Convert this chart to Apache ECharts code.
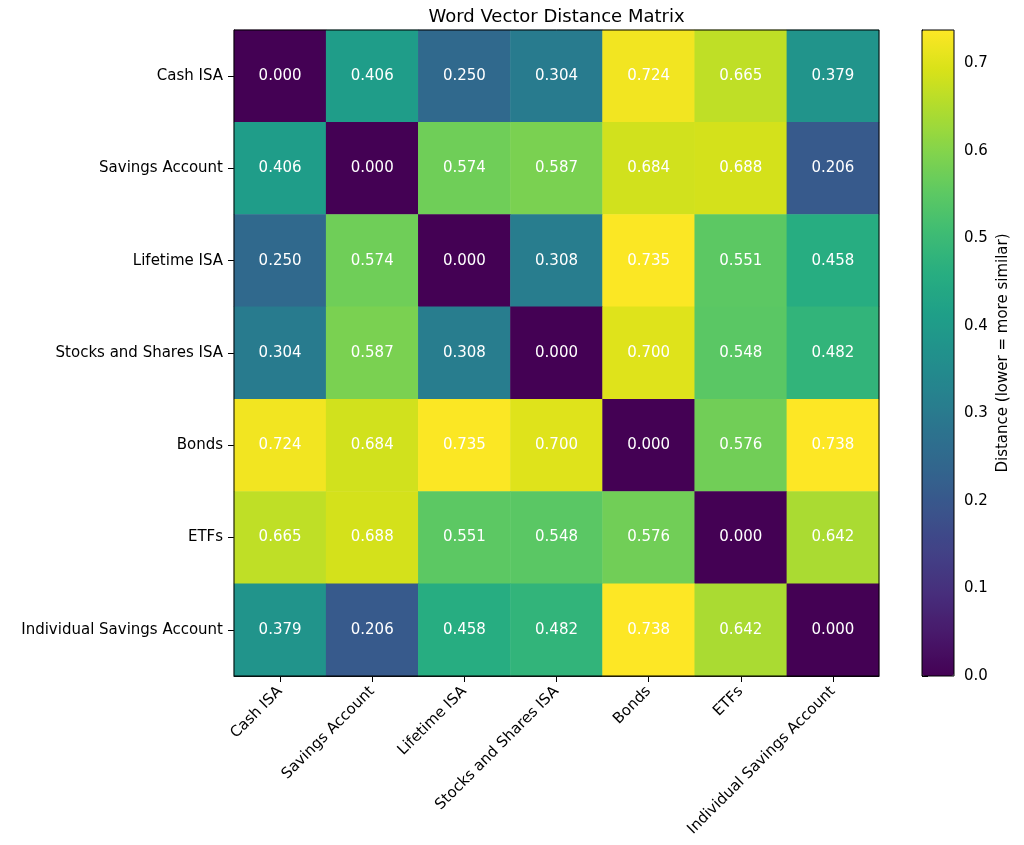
<!DOCTYPE html>
<html>
<head>
<meta charset="utf-8">
<script src="https://cdn.jsdelivr.net/npm/echarts@6/dist/echarts.min.js"></script>
<style>html,body{margin:0;padding:0;background:#fff}#c{width:1024px;height:845px}</style>
</head>
<body>
<div id="c"></div>
<script>
const categories = ['Cash ISA', 'Savings Account', 'Lifetime ISA', 'Stocks and Shares ISA', 'Bonds', 'ETFs', 'Individual Savings Account'];
const rowCashISA = [0.000, 0.406, 0.250, 0.304, 0.724, 0.665, 0.379];
const rowSavings = [0.406, 0.000, 0.574, 0.587, 0.684, 0.688, 0.206];
const rowLifetime = [0.250, 0.574, 0.000, 0.308, 0.735, 0.551, 0.458];
const rowStocks = [0.304, 0.587, 0.308, 0.000, 0.700, 0.548, 0.482];
const rowBonds = [0.724, 0.684, 0.735, 0.700, 0.000, 0.576, 0.738];
const rowETFs = [0.665, 0.688, 0.551, 0.548, 0.576, 0.000, 0.642];
const rowIndividual = [0.379, 0.206, 0.458, 0.482, 0.738, 0.642, 0.000];
const matrix = [rowCashISA, rowSavings, rowLifetime, rowStocks, rowBonds, rowETFs, rowIndividual];
const colorbarTicks = [0, 0.1, 0.2, 0.3, 0.4, 0.5, 0.6, 0.7];
const vmin = 0, vmax = 0.738;

const viridis = ['#440154','#48186a','#472d7b','#424086','#3b528b','#33638d','#2c728e','#26828e','#21918c','#1fa088','#28ae80','#3fbc73','#5ec962','#84d44b','#addc30','#d8e219','#fde725'];

const data = [];
matrix.forEach((row, r) => row.forEach((v, c) => data.push([c, r, v])));

const FONT = 'DejaVu Sans';
const FS = 15;
const G = {left: 234, top: 30, width: 645, height: 646};
const CB = {left: 922, top: 30, width: 32, height: 646};

const chart = echarts.init(document.getElementById('c'));
chart.setOption({
  backgroundColor: '#fff',
  animation: false,
  textStyle: {fontFamily: FONT},
  title: {
    text: 'Word Vector Distance Matrix',
    left: G.left + G.width / 2 - 5, top: 3, textAlign: 'center',
    textStyle: {fontFamily: FONT, fontSize: 18, fontWeight: 'normal', color: '#000'}
  },
  grid: [
    {left: G.left, top: G.top, width: G.width, height: G.height},
    {left: CB.left, top: CB.top, width: CB.width, height: CB.height}
  ],
  xAxis: [
    {
      type: 'category', data: categories, gridIndex: 0, position: 'bottom',
      axisLine: {show: true, lineStyle: {color: '#000', width: 1}},
      axisTick: {show: true, alignWithLabel: true, length: 6, lineStyle: {color: '#000'}},
      axisLabel: {rotate: 45, fontSize: FS, color: '#000', fontFamily: FONT, margin: 13, interval: 0},
      splitLine: {show: false}
    },
    {type: 'value', gridIndex: 1, show: false, min: 0, max: 1}
  ],
  yAxis: [
    {
      type: 'category', data: categories, gridIndex: 0, inverse: true,
      axisLine: {show: true, lineStyle: {color: '#000', width: 1}},
      axisTick: {show: true, alignWithLabel: true, length: 6, lineStyle: {color: '#000'}},
      axisLabel: {fontSize: FS, color: '#000', fontFamily: FONT, margin: 11, interval: 0},
      splitLine: {show: false}
    },
    {
      type: 'value', gridIndex: 1, position: 'right', min: vmin, max: vmax,
      axisLine: {show: true, lineStyle: {color: '#000', width: 1}},
      axisTick: {show: true, length: 6, lineStyle: {color: '#000'}, customValues: colorbarTicks},
      axisLabel: {fontSize: FS, color: '#000', fontFamily: FONT, margin: 10, customValues: colorbarTicks,
        formatter: v => v.toFixed(1)},
      splitLine: {show: false},
      name: 'Distance (lower = more similar)', nameLocation: 'middle', nameRotate: 90, nameGap: 42,
      nameTextStyle: {fontSize: FS, color: '#000', fontFamily: FONT}
    }
  ],
  visualMap: {
    type: 'continuous', min: vmin, max: vmax, seriesIndex: 0,
    left: CB.left, top: CB.top, itemWidth: CB.width, itemHeight: CB.height,
    padding: 0, calculable: false, text: null, showLabel: false,
    inRange: {color: viridis}
  },
  graphic: [
    {type: 'rect', shape: {x: G.left, y: G.top, width: G.width, height: G.height}, style: {fill: 'none', stroke: '#000', lineWidth: 1}, z: 100},
    {type: 'rect', shape: {x: CB.left, y: CB.top, width: CB.width, height: CB.height}, style: {fill: 'none', stroke: '#000', lineWidth: 1}, z: 100}
  ],
  series: [{
    type: 'heatmap', xAxisIndex: 0, yAxisIndex: 0, data: data,
    label: {show: true, color: '#fff', fontSize: 15, fontFamily: FONT, formatter: p => p.value[2].toFixed(3)},
    itemStyle: {borderWidth: 0},
    emphasis: {disabled: true}
  }]
});
</script>
</body>
</html>
